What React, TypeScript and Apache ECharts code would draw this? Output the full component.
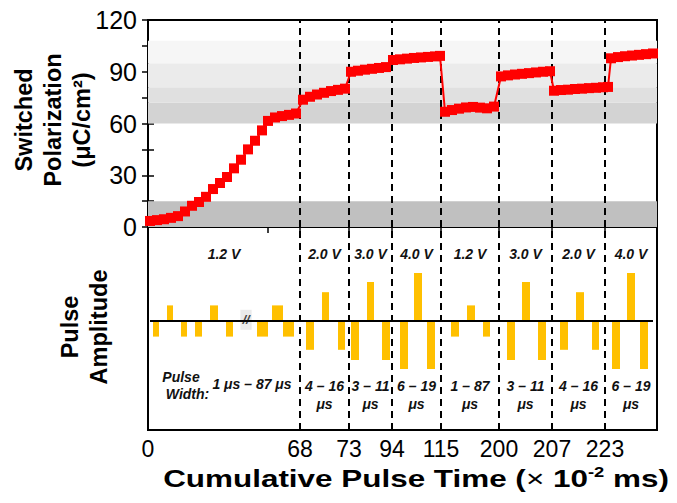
import React, { useEffect, useRef } from 'react';
import * as echarts from 'echarts';

const FONT = "'Liberation Sans', Arial, Helvetica, sans-serif";

// Schematic (non-linear) cumulative-time axis: plot position of each segment boundary and its label
const boundaryPos = [0, 152, 201, 244, 293, 351, 404, 457];
const boundaryLabels = ['0', '68', '73', '94', '115', '200', '207', '223'];
const xMax = 509;
const extraTopTick = [120];

// Switched polarization (µC/cm²) vs. plot position
const polPos = [
  2, 9, 16, 23, 30, 37, 44, 51, 58, 65, 72, 79, 86, 93, 100, 107, 114, 120, 127, 134, 141, 148,
  155, 162, 169, 176, 183, 190, 197,
  203, 210, 217, 224, 231, 238,
  245, 252, 259, 266, 273, 280, 287, 292,
  297, 304, 311, 318, 325, 332, 339, 346,
  353, 360, 367, 374, 381, 388, 395, 402,
  406, 413, 420, 427, 434, 441, 448, 455, 460,
  463, 470, 477, 484, 491, 498, 505,
];
const polValue = [
  3.5, 4.0, 4.5, 5.3, 6.3, 9.0, 12.3, 14.5, 17.5, 22, 25.5, 29, 34, 39, 45, 50, 56, 61.5, 63.5, 64.3, 65, 65.8,
  73.8, 75.5, 76.8, 77.8, 78.8, 79.5, 80.2,
  90, 90.6, 91.2, 91.7, 92.2, 92.7,
  96.8, 97.2, 97.6, 98, 98.3, 98.6, 98.9, 99.2,
  66.8, 67.8, 68.6, 69.3, 69.6, 69.2, 68.8, 69.8,
  87.3, 87.9, 88.4, 88.8, 89.2, 89.6, 90, 90.3,
  79, 79.4, 79.6, 80, 80.2, 80.5, 80.7, 81, 81.2,
  97.8, 98.5, 99, 99.4, 99.8, 100.2, 100.6,
];

// Gray level bands (µC/cm²)
const bandLow = [0, 60, 72, 81, 95];
const bandHigh = [15, 72, 81, 95, 108];
const bandColors = ['#c0c0c0', '#d3d3d3', '#e0e0e0', '#ebebeb', '#f6f6f6'];

// Pulses: start, end (plot position) and signed amplitude
const pulseStart = [5, 19, 33, 47, 62, 78, 109, 124, 135, 158, 174, 190, 203, 219, 234, 252, 266, 279, 303, 319, 335, 359, 374, 390, 412, 428, 444, 464, 479, 492];
const pulseEnd = [11, 25, 39, 54, 70, 85, 120, 135, 146, 166, 181, 197, 211, 226, 242, 260, 274, 287, 311, 327, 342, 367, 382, 398, 420, 436, 451, 472, 487, 500];
const pulseAmp = [-1.3, 1.3, -1.3, -1.3, 1.3, -1.3, -1.3, 1.3, -1.3, -2.4, 2.4, -2.4, -3.25, 3.25, -3.25, -4, 4, -4, -1.3, 1.3, -1.3, -3.25, 3.25, -3.25, -2.4, 2.4, -2.4, -4, 4, -4];

const voltageLabels = ['1.2 V', '2.0 V', '3.0 V', '4.0 V', '1.2 V', '3.0 V', '2.0 V', '4.0 V'];
const widthLabels = ['1 μs – 87 μs', '4 – 16\nμs', '3 – 11\nμs', '6 – 19\nμs', '1 – 87\nμs', '3 – 11\nμs', '4 – 16\nμs', '6 – 19\nμs'];

export default function App() {
  const ref = useRef<HTMLDivElement>(null);
  useEffect(() => {
    if (!ref.current) return;
    const chart = echarts.init(ref.current, null, { renderer: 'svg' });

    const edges = [...boundaryPos, xMax];
    const centers = boundaryPos.map((b, i) => (b + edges[i + 1]) / 2);

    type Ann = { x: number; y: number; text: string; size?: number; bg?: string; fill?: string };
    const anns: Ann[] = [];
    voltageLabels.forEach((t, i) => anns.push({ x: centers[i], y: 5.6, text: t }));
    widthLabels.forEach((t, i) => {
      if (i === 0) anns.push({ x: 104, y: -5.25, text: t });
      else anns.push({ x: centers[i], y: -6.17, text: t });
    });
    anns.push({ x: 33, y: -4.67, text: 'Pulse' });
    anns.push({ x: 39.5, y: -6.08, text: 'Width:' });
    anns.push({ x: 98, y: 0.1, text: '//', size: 13, bg: 'rgba(225,225,225,0.7)', fill: '#444' });

    const tickStyle = { color: '#000', width: 1.5 };
    const dashStyle = { color: '#000', width: 2, type: [7, 5] as any };

    const option: any = {
      animation: false,
      grid: [
        { left: 148, top: 20, width: 509, height: 207, show: true, borderColor: '#000', borderWidth: 2, backgroundColor: 'transparent' },
        { left: 148, top: 227, width: 509, height: 203, show: true, borderColor: '#000', borderWidth: 2, backgroundColor: 'transparent' },
      ],
      xAxis: [
        {
          gridIndex: 0, type: 'value', min: 0, max: xMax, position: 'bottom',
          axisLine: { show: false }, splitLine: { show: false },
          axisTick: { inside: true, length: 6, lineStyle: tickStyle, customValues: [...extraTopTick, ...boundaryPos.slice(1)] },
          axisLabel: { show: false },
        },
        {
          gridIndex: 0, type: 'value', min: 0, max: xMax, position: 'top',
          axisLine: { show: false }, splitLine: { show: false },
          axisTick: { inside: true, length: 6, lineStyle: tickStyle, customValues: [...extraTopTick, ...boundaryPos.slice(1)] },
          axisLabel: { show: false },
        },
        {
          gridIndex: 1, type: 'value', min: 0, max: xMax, position: 'bottom',
          axisLine: { show: false }, splitLine: { show: false },
          axisTick: { inside: true, length: 6, lineStyle: tickStyle, customValues: boundaryPos.slice(1) },
          axisLabel: {
            customValues: boundaryPos,
            formatter: (v: number) => boundaryLabels[boundaryPos.indexOf(v)] ?? '',
            color: '#000', fontSize: 23, fontFamily: FONT, margin: 7,
          },
        },
      ],
      yAxis: [
        {
          gridIndex: 0, type: 'value', min: 0, max: 120, interval: 15, position: 'left',
          axisLine: { show: false }, splitLine: { show: false },
          axisTick: { inside: true, length: 6, lineStyle: tickStyle },
          axisLabel: { customValues: [0, 30, 60, 90, 120], color: '#000', fontSize: 25, fontFamily: FONT, margin: 11 },
        },
        {
          gridIndex: 0, type: 'value', min: 0, max: 120, interval: 15, position: 'right',
          axisLine: { show: false }, splitLine: { show: false },
          axisTick: { inside: true, length: 6, lineStyle: tickStyle },
          axisLabel: { show: false },
        },
        {
          gridIndex: 1, type: 'value', min: -9.08, max: 7.83,
          axisLine: { show: false }, splitLine: { show: false }, axisTick: { show: false }, axisLabel: { show: false },
        },
      ],
      series: [
        {
          type: 'line', xAxisIndex: 0, yAxisIndex: 0,
          data: polPos.map((x, i) => [x, polValue[i]]),
          symbol: 'rect', symbolSize: 10,
          itemStyle: { color: '#ff0000' },
          lineStyle: { color: '#ff0000', width: 2 },
          z: 5,
          markArea: {
            silent: true,
            label: { show: false },
            data: bandLow.map((lo, i) => [
              { yAxis: lo, itemStyle: { color: bandColors[i] } },
              { yAxis: bandHigh[i] },
            ]),
          },
          markLine: {
            silent: true, symbol: ['none', 'none'], label: { show: false },
            lineStyle: dashStyle,
            data: boundaryPos.slice(1).map((v) => ({ xAxis: v })),
          },
        },
        {
          type: 'custom', xAxisIndex: 2, yAxisIndex: 2,
          data: pulseStart.map((s, i) => [s, pulseEnd[i], pulseAmp[i]]),
          encode: { x: [0, 1], y: 2 },
          renderItem: (params: any, api: any) => {
            const p0 = api.coord([api.value(0), 0]);
            const p1 = api.coord([api.value(1), api.value(2)]);
            return {
              type: 'rect',
              shape: {
                x: Math.min(p0[0], p1[0]), y: Math.min(p0[1], p1[1]),
                width: Math.abs(p1[0] - p0[0]), height: Math.abs(p1[1] - p0[1]),
              },
              style: { fill: '#ffc000' },
            };
          },
          markLine: {
            silent: true, symbol: ['none', 'none'], label: { show: false },
            data: [
              ...boundaryPos.slice(1).map((v) => ({ xAxis: v, lineStyle: dashStyle })),
              [{ coord: [2, 0], lineStyle: { color: '#000', width: 2, type: 'solid' } }, { coord: [505, 0] }],
            ],
          },
        },
        {
          type: 'custom', xAxisIndex: 2, yAxisIndex: 2, silent: true,
          data: anns.map((a) => [a.x, a.y]),
          encode: { x: 0, y: 1 },
          renderItem: (params: any, api: any) => {
            const a = anns[params.dataIndex];
            const p = api.coord([api.value(0), api.value(1)]);
            return {
              type: 'text', x: p[0], y: p[1], z2: 10,
              style: {
                text: a.text, fill: a.fill ?? '#111', fontSize: a.size ?? 14, fontWeight: 'bold', fontStyle: 'italic',
                fontFamily: FONT, align: 'center', verticalAlign: 'middle', lineHeight: 18,
                backgroundColor: a.bg, padding: a.bg ? [1, 2] : 0,
              },
            };
          },
        },
      ],
      graphic: [
        {
          type: 'text', x: 416, y: 479, scaleX: 1.31,
          style: {
            text: '{a|Cumulative Pulse Time (}{x|×}{a| 10}{s|-2}{a| ms)}',
            align: 'center', verticalAlign: 'middle',
            rich: {
              a: { fontSize: 24, fontWeight: 'bold', fontFamily: FONT, fill: '#000', lineHeight: 28 },
              x: { fontSize: 24, fontWeight: 'normal', fontFamily: FONT, fill: '#000', lineHeight: 28 },
              s: { fontSize: 14, fontWeight: 'bold', fontFamily: FONT, fill: '#000', verticalAlign: 'top', lineHeight: 16 },
            },
          },
        },
        {
          type: 'text', x: 53, y: 120, rotation: Math.PI / 2,
          style: {
            text: 'Switched\nPolarization\n(μC/cm²)', fontSize: 23.5, fontWeight: 'bold', fontFamily: FONT,
            fill: '#000', align: 'center', verticalAlign: 'middle', lineHeight: 29,
          },
        },
        {
          type: 'text', x: 84, y: 327, rotation: Math.PI / 2,
          style: {
            text: 'Pulse\nAmplitude', fontSize: 23.5, fontWeight: 'bold', fontFamily: FONT,
            fill: '#000', align: 'center', verticalAlign: 'middle', lineHeight: 29,
          },
        },
      ],
    };
    chart.setOption(option);
    return () => chart.dispose();
  }, []);
  return <div ref={ref} style={{ position: 'fixed', left: 0, top: 0, width: 677, height: 503, background: '#fff' }} />;
}
